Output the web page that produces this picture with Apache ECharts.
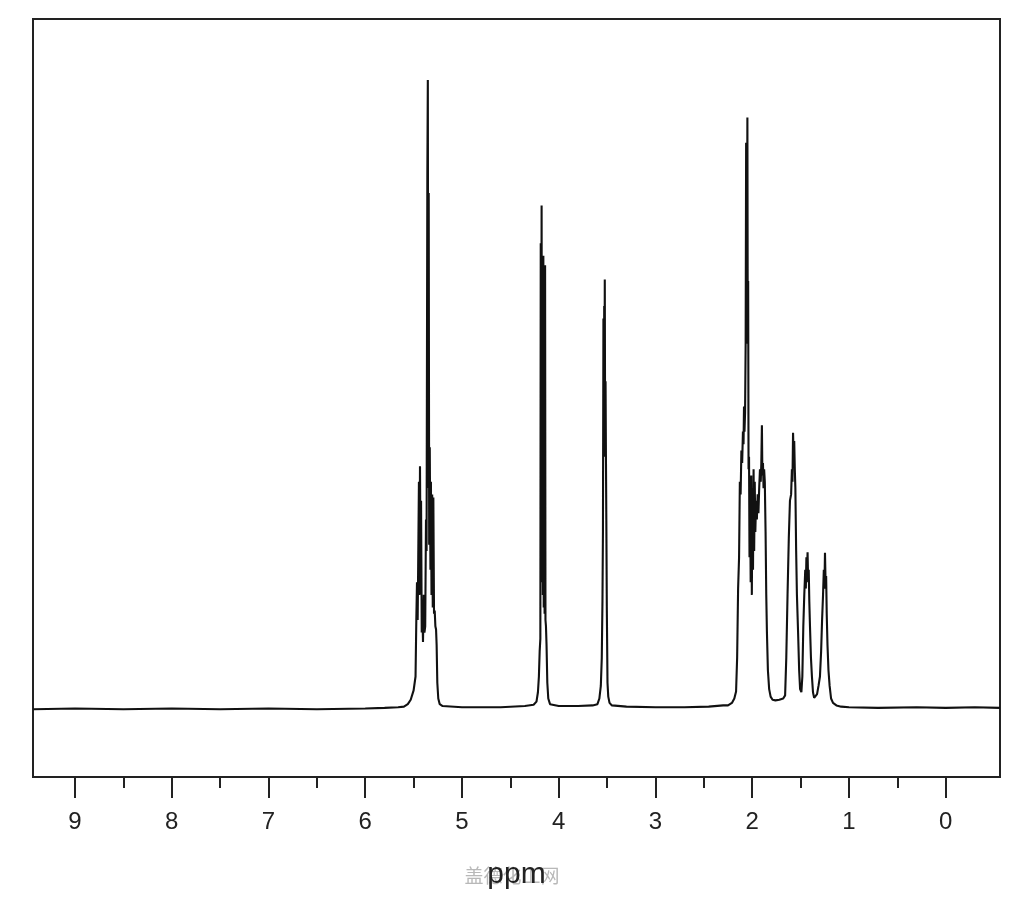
<!DOCTYPE html>
<html>
<head>
<meta charset="utf-8">
<script src="https://cdn.jsdelivr.net/npm/echarts@6/dist/echarts.min.js"></script>
<style>
html,body{margin:0;padding:0;background:#fff;}
#chart{width:1024px;height:900px;}
</style>
</head>
<body>
<div id="chart"></div>
<script>
// ---- Data (chemical shift in ppm, relative intensity) ----
const majorTicks = [0, 1, 2, 3, 4, 5, 6, 7, 8, 9];
const minorTicks = [0.5, 1.5, 2.5, 3.5, 4.5, 5.5, 6.5, 7.5, 8.5];

const baseLeftPpm = [9.43, 9.0, 8.5, 8.0, 7.5, 7.0, 6.5, 6.0, 5.8, 5.66];
const baseLeftInt = [-0.2, -0.1, -0.2, -0.1, -0.2, -0.1, -0.2, -0.1, 0.0, 0.1];

const olefinPpm = [5.60, 5.56, 5.53, 5.50, 5.48, 5.472, 5.465, 5.458, 5.452, 5.445, 5.440, 5.434, 5.428, 5.423, 5.416, 5.410, 5.403, 5.395, 5.388, 5.380, 5.372, 5.366, 5.358, 5.353, 5.348, 5.344, 5.339, 5.333, 5.326, 5.321, 5.315, 5.308, 5.302, 5.296, 5.289, 5.282, 5.275, 5.268, 5.262, 5.255, 5.245, 5.23, 5.20];
const olefinInt = [0.2, 0.6, 1.3, 2.8, 5, 14, 20, 14, 24, 36, 18, 38.5, 22, 33, 12, 16, 10.5, 18, 12, 13, 30, 25, 85, 100, 35, 82, 26, 41.5, 22, 36, 18, 34, 16, 33.5, 15, 15.5, 13, 12.5, 10, 4, 1.5, 0.6, 0.3];

const gap1Ppm = [5.0, 4.6, 4.35];
const gap1Int = [0.1, 0.1, 0.3];

const och2Ppm = [4.26, 4.23, 4.215, 4.205, 4.197, 4.190, 4.186, 4.182, 4.177, 4.173, 4.168, 4.164, 4.159, 4.155, 4.150, 4.146, 4.141, 4.137, 4.132, 4.126, 4.118, 4.108, 4.09];
const och2Int = [0.5, 1, 2.5, 5, 9, 11, 74, 20, 80, 25, 71, 18, 72, 16, 70, 15, 70.5, 14, 13, 10, 4, 1.5, 0.6];

const gap2Ppm = [4.0, 3.8, 3.65];
const gap2Int = [0.3, 0.3, 0.4];

const och2bPpm = [3.60, 3.58, 3.565, 3.555, 3.548, 3.543, 3.538, 3.534, 3.530, 3.527, 3.524, 3.520, 3.516, 3.512, 3.508, 3.503, 3.496, 3.488, 3.475, 3.45];
const och2bInt = [0.6, 1.5, 3.5, 8, 17, 28, 62, 40, 64, 45, 68.2, 40, 52, 40, 30, 16, 4, 1.8, 0.8, 0.4];

const gap3Ppm = [3.3, 3.0, 2.7, 2.45, 2.3];
const gap3Int = [0.2, 0.1, 0.1, 0.2, 0.4];

const acPpm = [2.25, 2.21, 2.185, 2.167, 2.156, 2.146, 2.136, 2.128, 2.120, 2.112, 2.104, 2.096, 2.090, 2.085, 2.080, 2.074, 2.068, 2.063, 2.058, 2.054, 2.050, 2.046, 2.042, 2.038, 2.033, 2.028, 2.022, 2.016, 2.010, 2.004, 1.998, 1.992, 1.986, 1.980, 1.974, 1.968, 1.960, 1.952, 1.944, 1.936, 1.928, 1.920, 1.912, 1.906, 1.900, 1.895, 1.889, 1.883, 1.877, 1.870, 1.862, 1.855, 1.848, 1.838, 1.825, 1.81];
const acInt = [0.4, 0.8, 1.5, 2.6, 8, 19, 24, 36, 34, 41, 39, 44, 42, 48, 44, 47, 58, 90, 62, 72, 94, 58, 68, 38, 40, 24, 33, 20, 37, 18, 35, 22, 38, 25, 36, 28, 33, 30, 34, 31, 35, 38, 36, 39, 45, 37, 39, 35, 38, 36, 28, 18, 12, 6, 3, 1.8];

const aliphPpm = [1.79, 1.76, 1.72, 1.68, 1.66, 1.648, 1.635, 1.622, 1.610, 1.598, 1.590, 1.584, 1.578, 1.572, 1.566, 1.560, 1.554, 1.546, 1.538, 1.526, 1.515, 1.505, 1.492, 1.482, 1.472, 1.462, 1.452, 1.446, 1.440, 1.434, 1.428, 1.422, 1.416, 1.410, 1.403, 1.393, 1.383, 1.372, 1.360, 1.345, 1.330, 1.315, 1.300, 1.288, 1.278, 1.268, 1.260, 1.254, 1.248, 1.242, 1.236, 1.230, 1.222, 1.212, 1.200, 1.185, 1.165, 1.13, 1.08];
const aliphInt = [1.3, 1.2, 1.3, 1.5, 2, 8, 18, 27, 33, 34, 38, 36, 43.8, 40, 42.5, 38, 35, 25, 18, 12, 6, 3, 2.5, 5, 13, 18, 22, 19, 24, 21, 24.8, 20, 22, 17, 13, 8, 5, 2.5, 1.6, 1.8, 2.2, 3.5, 5, 9, 14, 18, 22, 19, 24.7, 20, 21, 15, 10, 6, 3.5, 1.5, 0.8, 0.4, 0.2];

const baseRightPpm = [1.0, 0.7, 0.3, 0.0, -0.3, -0.56];
const baseRightInt = [0.1, 0.0, 0.1, 0.0, 0.1, 0.0];

// ---- Assemble the trace ----
const segments = [
  [baseLeftPpm, baseLeftInt], [olefinPpm, olefinInt], [gap1Ppm, gap1Int],
  [och2Ppm, och2Int], [gap2Ppm, gap2Int], [och2bPpm, och2bInt],
  [gap3Ppm, gap3Int], [acPpm, acInt], [aliphPpm, aliphInt], [baseRightPpm, baseRightInt]
];
const trace = [];
segments.forEach(([p, v]) => p.forEach((x, i) => trace.push([x, v[i]])));

const chart = echarts.init(document.getElementById('chart'), null, {renderer: 'canvas'});
const X_MIN = -0.561, X_MAX = 9.434;
const txt = '#222';
chart.setOption({
  animation: false,
  backgroundColor: '#fff',
  grid: {left: 33, top: 19, width: 967, height: 758, show: true, borderColor: txt, borderWidth: 2, backgroundColor: 'transparent'},
  xAxis: [{
    type: 'value', inverse: true, min: X_MIN, max: X_MAX, position: 'bottom',
    axisLine: {show: true, onZero: false, lineStyle: {color: txt, width: 2}},
    axisTick: {show: true, customValues: majorTicks, length: 21, inside: false, lineStyle: {color: txt, width: 2}},
    axisLabel: {show: true, customValues: majorTicks, fontSize: 24, color: txt, margin: 33, fontFamily: 'Liberation Sans'},
    splitLine: {show: false},
    name: 'ppm', nameLocation: 'middle', nameGap: 83,
    nameTextStyle: {fontSize: 30, color: txt, fontFamily: 'Liberation Sans'}
  }, {
    type: 'value', inverse: true, min: X_MIN, max: X_MAX, position: 'bottom', offset: 0,
    axisLine: {show: false, onZero: false},
    axisTick: {show: true, customValues: minorTicks, length: 11, inside: false, lineStyle: {color: txt, width: 2}},
    axisLabel: {show: false},
    splitLine: {show: false}
  }],
  yAxis: {type: 'value', min: -11, max: 109.7, show: false, splitLine: {show: false}},
  graphic: [{
    type: 'text', z: -5,
    style: {text: '盖德化工网', x: 512, y: 876, textAlign: 'center', textVerticalAlign: 'middle',
            fontSize: 19, fill: '#b8b8b8', fontFamily: 'Noto Sans CJK SC'}
  }],
  series: [{
    type: 'line', xAxisIndex: 0, data: trace, showSymbol: false, symbol: 'none',
    lineStyle: {color: '#111', width: 2.1}, silent: true, z: 3
  }]
});
</script>
</body>
</html>
